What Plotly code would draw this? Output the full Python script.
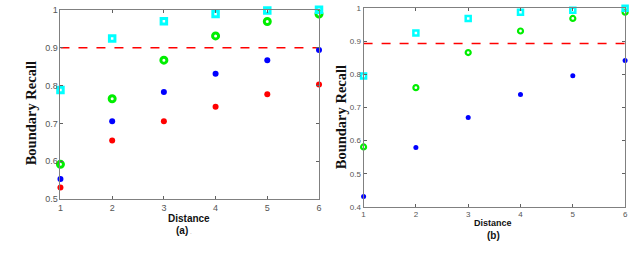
import plotly.graph_objects as go
from plotly.subplots import make_subplots

distance = [1, 2, 3, 4, 5, 6]

# Panel (a)
a_cyan = [0.788, 0.924, 0.970, 0.989, 0.998, 1.000]
a_green = [0.592, 0.765, 0.867, 0.931, 0.969, 0.989]
a_blue = [0.553, 0.706, 0.783, 0.831, 0.867, 0.894]
a_red = [0.531, 0.655, 0.706, 0.744, 0.777, 0.803]
a_threshold = 0.9

# Panel (b)
b_cyan = [0.795, 0.925, 0.969, 0.988, 0.994, 1.000]
b_green = [0.581, 0.760, 0.866, 0.931, 0.969, 0.988]
b_blue = [0.431, 0.579, 0.670, 0.739, 0.796, 0.842]
b_threshold = 0.893

a_yticks = [0.5, 0.6, 0.7, 0.8, 0.9, 1.0]
a_yticklabels = ["0.5", "0.6", "0.7", "0.8", "0.9", "1"]
b_yticks = [0.4, 0.5, 0.6, 0.7, 0.8, 0.9, 1.0]
b_yticklabels = ["0.4", "0.5", "0.6", "0.7", "0.8", "0.9", "1"]

fig = make_subplots(rows=1, cols=2)

def add_marks(col, series):
    for ys, sym, size, color, lw in series:
        fig.add_trace(go.Scatter(
            x=distance, y=ys, mode="markers", cliponaxis=False, showlegend=False,
            marker=dict(symbol=sym, size=size, color=color,
                        line=dict(color=color, width=lw))), row=1, col=col)

def add_thresh(col, t):
    fig.add_trace(go.Scatter(
        x=[distance[0], distance[-1]], y=[t, t], mode="lines", showlegend=False,
        line=dict(color="#ff0000", width=1.5, dash="dash")), row=1, col=col)

add_thresh(1, a_threshold)
add_marks(1, [
    (a_red, "circle", 6, "#ff0000", 0),
    (a_blue, "circle", 6, "#0000ff", 0),
    (a_green, "circle-open", 6, "#00ee00", 3),
    (a_cyan, "square-open", 5.5, "#00ffff", 3),
])
add_thresh(2, b_threshold)
add_marks(2, [
    (b_blue, "circle", 5, "#0000ff", 0),
    (b_green, "circle-open", 5, "#00ee00", 2.2),
    (b_cyan, "square-open", 5, "#00ffff", 2.5),
])

axis_common = dict(showgrid=False, zeroline=False, showline=True, linecolor="#808080",
                   linewidth=1, mirror="ticks", ticks="inside", ticklen=3,
                   tickcolor="#606060", tickfont=dict(family="Arial", size=9, color="#555555"))

fig.update_xaxes(**axis_common, range=[1, 6], tickvals=distance,
                 ticktext=[str(d) for d in distance])
fig.update_yaxes(**axis_common)

fig.update_layout(
    width=640, height=258, margin=dict(l=0, r=0, t=0, b=0),
    plot_bgcolor="white", paper_bgcolor="white",
    xaxis=dict(domain=[58/640, 319/640]),
    xaxis2=dict(domain=[364/640, 628/640], tickfont=dict(size=8)),
    yaxis=dict(domain=[1-202/258, 1-5/258], range=[0.5, 1.0], tickvals=a_yticks, ticktext=a_yticklabels),
    yaxis2=dict(domain=[1-210/258, 1-3.3/258], range=[0.4, 1.0], tickvals=b_yticks, ticktext=b_yticklabels,
                tickfont=dict(size=8)),
)

ann = [
    dict(text="<b>Boundary Recall</b>", x=28/640, y=1-113/258, textangle=-90,
         font=dict(family="Liberation Serif", size=14.5, color="#111111")),
    dict(text="<b>Boundary Recall</b>", x=342/640, y=1-117/258, textangle=-90,
         font=dict(family="Liberation Serif", size=14.5, color="#111111")),
    dict(text="<b>Distance</b>", x=188/640, y=1-222/258,
         font=dict(family="Arial", size=10, color="#111111")),
    dict(text="<b>(a)</b><span style='font-size:6px;color:#888'> .</span>", x=183/640, y=1-235/258,
         font=dict(family="Arial", size=10, color="#111111")),
    dict(text="<b>Distance</b>", x=495/640, y=1-227/258,
         font=dict(family="Arial", size=9, color="#111111")),
    dict(text="<b>(b)</b>", x=495/640, y=1-240/258,
         font=dict(family="Arial", size=10, color="#111111")),
]
for a in ann:
    fig.add_annotation(xref="paper", yref="paper", showarrow=False, xanchor="center", yanchor="middle", **a)

fig.write_html("out.html", config={"displayModeBar": False},
               post_script="document.body.style.margin='0';")
